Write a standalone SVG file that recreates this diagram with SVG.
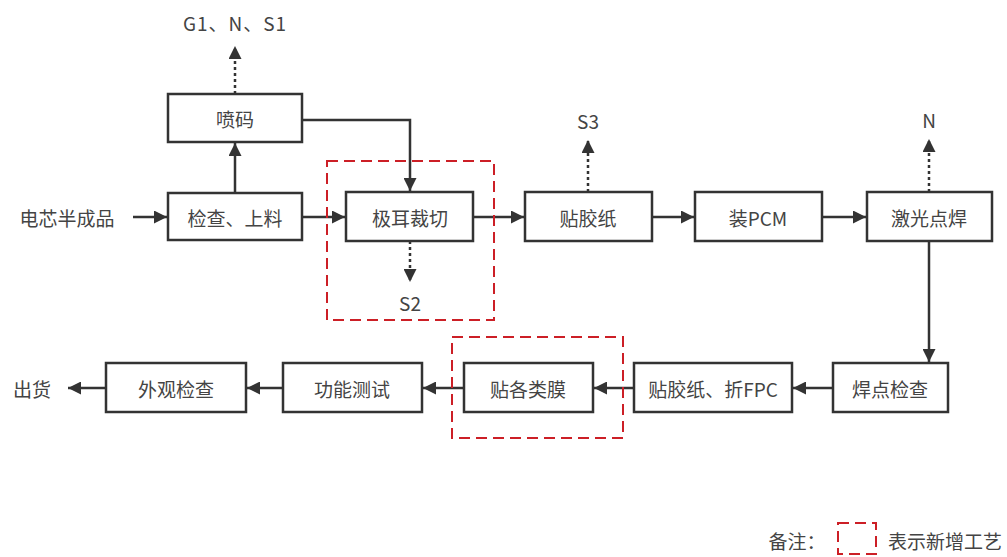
<svg xmlns="http://www.w3.org/2000/svg" width="1007" height="557" viewBox="0 0 1007 557">
<style>
.box{fill:#fff;stroke:#333;stroke-width:2.5}
.t{font-family:"Noto Sans CJK SC","Noto Sans",sans-serif;font-size:19px;fill:#444;text-anchor:middle;dominant-baseline:central}
.ln{fill:none;stroke:#333;stroke-width:2.5}
.dot{fill:none;stroke:#333;stroke-width:2.5;stroke-dasharray:3,3}
.red{fill:none;stroke:#cc1f26;stroke-width:2;stroke-dasharray:11,6}
</style>
<defs>
<marker id="ah" viewBox="0 0 10 10" refX="10" refY="5" markerWidth="16" markerHeight="13" markerUnits="userSpaceOnUse" orient="auto">
<path d="M0,0 L10,5 L0,10 z" fill="#333"/>
</marker>
</defs>
<rect width="1007" height="557" fill="#fff"/>
<g id="connectors">
<line class="ln" x1="133" y1="217" x2="167" y2="217" marker-end="url(#ah)"/>
<line class="ln" x1="235" y1="193" x2="235" y2="143" marker-end="url(#ah)"/>
<line class="dot" x1="235" y1="94" x2="235" y2="46" marker-end="url(#ah)"/>
<polyline class="ln" points="302,120 410,120 410,191" marker-end="url(#ah)"/>
<line class="ln" x1="302" y1="217" x2="345" y2="217" marker-end="url(#ah)"/>
<line class="dot" x1="410" y1="241" x2="410" y2="282" marker-end="url(#ah)"/>
<line class="ln" x1="473" y1="217" x2="524" y2="217" marker-end="url(#ah)"/>
<line class="dot" x1="588" y1="192" x2="588" y2="140" marker-end="url(#ah)"/>
<line class="ln" x1="652" y1="217" x2="694" y2="217" marker-end="url(#ah)"/>
<line class="ln" x1="822" y1="217" x2="866" y2="217" marker-end="url(#ah)"/>
<line class="dot" x1="929" y1="192" x2="929" y2="139" marker-end="url(#ah)"/>
<line class="ln" x1="929" y1="241" x2="929" y2="362" marker-end="url(#ah)"/>
<line class="ln" x1="833" y1="388" x2="793" y2="388" marker-end="url(#ah)"/>
<line class="ln" x1="634" y1="388" x2="594" y2="388" marker-end="url(#ah)"/>
<line class="ln" x1="464" y1="388" x2="423" y2="388" marker-end="url(#ah)"/>
<line class="ln" x1="283" y1="388" x2="247" y2="388" marker-end="url(#ah)"/>
<line class="ln" x1="106" y1="388" x2="68" y2="388" marker-end="url(#ah)"/>
</g>
<g id="n-input"><text class="t" x="67" y="217">电芯半成品</text></g>
<g id="n-check"><rect class="box" x="168" y="193" width="134" height="47"/><text class="t" x="235" y="217">检查、上料</text></g>
<g id="n-code"><rect class="box" x="168" y="94" width="134" height="48"/><text class="t" x="235" y="118">喷码</text></g>
<g id="n-g1"><text class="t" x="235" y="22" letter-spacing="1">G1、N、S1</text></g>
<g id="n-cut"><rect class="box" x="346" y="192" width="127" height="49"/><text class="t" x="410" y="217">极耳裁切</text></g>
<g id="n-s2"><text class="t" x="410" y="302">S2</text></g>
<g id="n-tape"><rect class="box" x="525" y="192" width="127" height="49"/><text class="t" x="588" y="217">贴胶纸</text></g>
<g id="n-s3"><text class="t" x="588" y="120">S3</text></g>
<g id="n-pcm"><rect class="box" x="695" y="192" width="127" height="49"/><text class="t" x="758" y="217">装PCM</text></g>
<g id="n-laser"><rect class="box" x="867" y="192" width="125" height="49"/><text class="t" x="929" y="217">激光点焊</text></g>
<g id="n-n"><text class="t" x="929" y="119">N</text></g>
<g id="n-weldchk"><rect class="box" x="833" y="363" width="115" height="49"/><text class="t" x="890" y="388">焊点检查</text></g>
<g id="n-fpc"><rect class="box" x="634" y="363" width="158" height="49"/><text class="t" x="713" y="388">贴胶纸、折FPC</text></g>
<g id="n-film"><rect class="box" x="464" y="363" width="129" height="49"/><text class="t" x="528" y="388">贴各类膜</text></g>
<g id="n-func"><rect class="box" x="283" y="363" width="139" height="49"/><text class="t" x="352" y="388">功能测试</text></g>
<g id="n-appear"><rect class="box" x="106" y="363" width="140" height="49"/><text class="t" x="176" y="388">外观检查</text></g>
<g id="n-ship"><text class="t" x="32" y="388">出货</text></g>
<g id="new1"><rect class="red" x="327" y="161" width="167" height="159"/></g>
<g id="new2"><rect class="red" x="452" y="337" width="171" height="101"/></g>
<g id="legend">
<text class="t" x="797" y="540">备注：</text>
<rect class="red" x="838" y="523" width="38" height="31" stroke-dasharray="14,10"/>
<text class="t" x="945" y="540">表示新增工艺</text>
</g>
</svg>
